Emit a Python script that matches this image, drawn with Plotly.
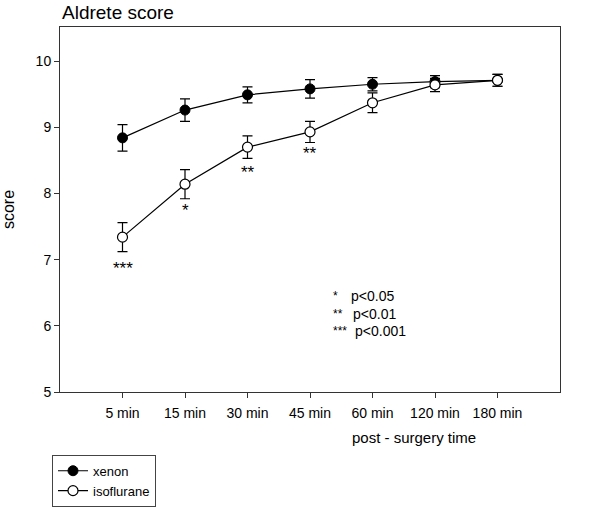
import plotly.graph_objects as go

times = ['5 min', '15 min', '30 min', '45 min', '60 min', '120 min', '180 min']
xenon = [8.84, 9.26, 9.49, 9.58, 9.65, 9.69, 9.71]
xenon_err = [0.20, 0.17, 0.12, 0.14, 0.10, 0.09, 0.09]
iso = [7.34, 8.14, 8.70, 8.93, 9.37, 9.64, 9.71]
iso_err = [0.22, 0.22, 0.17, 0.16, 0.15, 0.10, 0.09]

sig_times = ['5 min', '15 min', '30 min', '45 min']
sig_marks = ['***', '*', '**', '**']
sig_y = [6.87, 7.74, 8.32, 8.61]

key_stars = ['*', '**', '***']
key_text = ['p<0.05', 'p<0.01', 'p<0.001']

font = "Liberation Sans, Arial, sans-serif"

fig = go.Figure()
fig.add_trace(go.Scatter(
	x=times, y=xenon, name='xenon', mode='lines+markers',
	line=dict(color='black', width=1.2),
	marker=dict(symbol='circle', size=10, color='black', line=dict(color='black', width=1)),
	error_y=dict(type='data', array=xenon_err, color='black', thickness=1.2, width=5)))
fig.add_trace(go.Scatter(
	x=times, y=iso, name='isoflurane', mode='lines+markers',
	line=dict(color='black', width=1.2),
	marker=dict(symbol='circle', size=10, color='white', line=dict(color='black', width=1.2)),
	error_y=dict(type='data', array=iso_err, color='black', thickness=1.2, width=5)))

for t, m, yy in zip(sig_times, sig_marks, sig_y):
	fig.add_annotation(x=t, y=yy, text=m, showarrow=False, font=dict(size=17, color='black'))

for i, (s, t) in enumerate(zip(key_stars, key_text)):
	yy = 0.262 - i * 0.047
	fig.add_annotation(x=0.542, y=yy, xref='paper', yref='paper', text=s, showarrow=False,
		xanchor='left', yanchor='middle', font=dict(size=12, color='black'))
	fig.add_annotation(x=0.578 + 0.004 * i, y=yy, xref='paper', yref='paper', text=t, showarrow=False,
		xanchor='left', yanchor='middle', font=dict(size=14, color='black'))

fig.add_annotation(x=0.836, y=-0.125, xref='paper', yref='paper', text='post - surgery time',
	showarrow=False, xanchor='right', yanchor='middle', font=dict(size=15, color='black'))
fig.add_annotation(x=0.0, y=1.005, xref='paper', yref='paper', text='Aldrete score',
	showarrow=False, xanchor='left', yanchor='bottom', font=dict(size=19, color='black'))

fig.update_layout(
	width=600, height=532,
	margin=dict(l=60, r=40, t=27, b=140, autoexpand=False),
	paper_bgcolor='white', plot_bgcolor='white',
	font=dict(family=font, size=13, color='black'),
	showlegend=True,
	legend=dict(x=-0.016, y=-0.172, xanchor='left', yanchor='top',
		bordercolor='#444', borderwidth=1, bgcolor='white',
		font=dict(size=13), tracegroupgap=0, itemwidth=30),
	xaxis=dict(type='category', categoryorder='array', categoryarray=times,
		range=[-1, 7], showgrid=False, zeroline=False, automargin=False,
		showline=True, linecolor='#333', linewidth=1, mirror=True,
		ticks='outside', ticklen=5, tickcolor='#333', ticklabelstandoff=3,
		tickfont=dict(size=14)),
	yaxis=dict(range=[5, 10.515], tickvals=[5, 6, 7, 8, 9, 10],
		showgrid=False, zeroline=False, automargin=False,
		showline=True, linecolor='#333', linewidth=1, mirror=True,
		ticks='outside', ticklen=5, tickcolor='#333',
		tickfont=dict(size=14),
		title=dict(text='score', font=dict(size=16), standoff=18)),
)

fig.write_html("out.html", config={'displayModeBar': False},
	post_script="document.body.style.margin='0';document.body.style.overflow='hidden';")
